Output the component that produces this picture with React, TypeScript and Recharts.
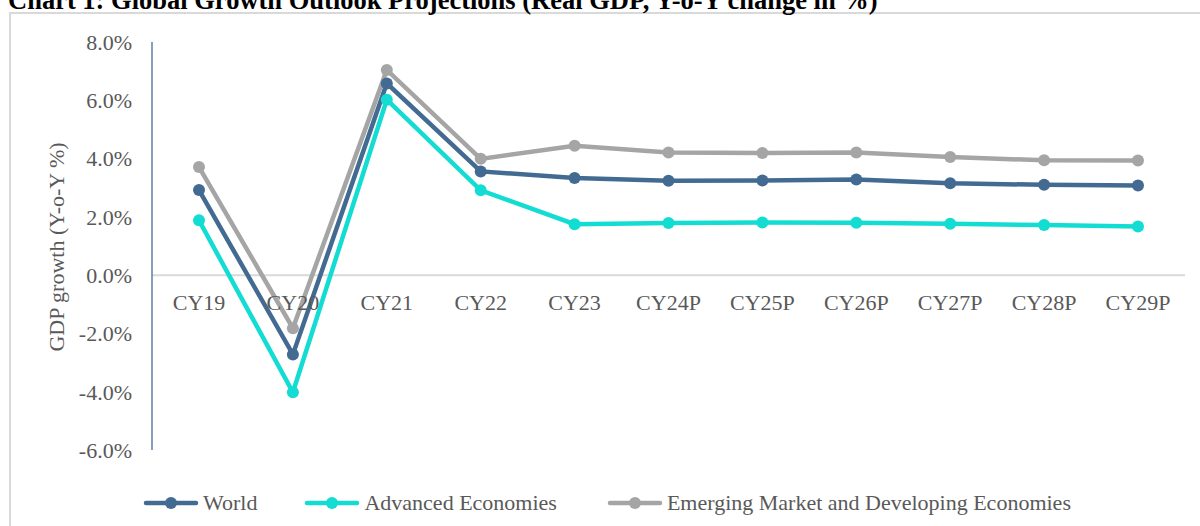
import React from "react";
import { LineChart, Line, XAxis, YAxis, ReferenceLine } from "recharts";

const CATEGORIES = [
  "CY19",
  "CY20",
  "CY21",
  "CY22",
  "CY23",
  "CY24P",
  "CY25P",
  "CY26P",
  "CY27P",
  "CY28P",
  "CY29P",
];
const WORLD = [2.92, -2.72, 6.58, 3.56, 3.33, 3.24, 3.25, 3.28, 3.15, 3.1, 3.08];
const ADVANCED = [1.88, -4.02, 6.02, 2.91, 1.75, 1.79, 1.81, 1.8, 1.76, 1.72, 1.67];
const EMERGING = [3.71, -1.82, 7.04, 3.99, 4.44, 4.21, 4.19, 4.21, 4.05, 3.94, 3.93];
const Y_TICKS = [-6, -4, -2, 0, 2, 4, 6, 8];

const SERIES = [
  { key: "world", name: "World", color: "#436B91" },
  { key: "advanced", name: "Advanced Economies", color: "#13DCD3" },
  { key: "emerging", name: "Emerging Market and Developing Economies", color: "#A5A5A5" },
];

const data = CATEGORIES.map((cat, i) => ({
  cat,
  world: WORLD[i],
  advanced: ADVANCED[i],
  emerging: EMERGING[i],
}));

const FONT = '"Liberation Serif", "Times New Roman", serif';
const TEXT = "#595959";
const PLOT_TOP = 42;
const PLOT_H = 408;
const ZERO_Y = PLOT_TOP + (PLOT_H * 8) / 14;

const XTick = (props: any) => {
  const { x, payload } = props;
  return (
    <text x={x} y={ZERO_Y + 35} textAnchor="middle" fill={TEXT} fontSize={22} fontFamily={FONT}>
      {payload.value}
    </text>
  );
};

const LegendBlock = () => (
  <div
    style={{
      position: "absolute",
      top: 490,
      left: 143,
      display: "flex",
      fontFamily: FONT,
      fontSize: 22,
      color: TEXT,
      whiteSpace: "nowrap",
    }}
  >
    {SERIES.map((s, i) => (
      <div key={s.key} style={{ display: "flex", alignItems: "center", marginRight: i === 0 ? 47 : 50 }}>
        <svg width={56} height={14} style={{ marginRight: 4 }}>
          <line x1={3} y1={7} x2={53} y2={7} stroke={s.color} strokeWidth={4.5} strokeLinecap="round" />
          <circle cx={28} cy={7} r={6} fill={s.color} />
        </svg>
        <span>{s.name}</span>
      </div>
    ))}
  </div>
);

export default function App() {
  return (
    <div
      style={{
        position: "absolute",
        left: 0,
        top: 0,
        width: 1200,
        height: 526,
        overflow: "hidden",
        background: "#fff",
      }}
    >
      <div
        style={{
          position: "absolute",
          left: 9,
          top: 12,
          width: 1250,
          height: 600,
          border: "2px solid #d9d9d9",
        }}
      />
      <LineChart
        width={1200}
        height={526}
        data={data}
        margin={{ top: PLOT_TOP, right: 15, bottom: 46, left: 62 }}
      >
        <XAxis
          dataKey="cat"
          axisLine={false}
          tickLine={false}
          height={30}
          tick={<XTick />}
          interval={0}
          padding={{ left: 47, right: 47 }}
        />
        <YAxis
          width={90}
          domain={[-6, 8]}
          ticks={Y_TICKS}
          tickFormatter={(v: number) => `${v.toFixed(1)}%`}
          axisLine={{ stroke: "#5B7FA4", strokeWidth: 1.5 }}
          tickLine={false}
          tickMargin={14}
          tick={{ fill: TEXT, fontSize: 22, fontFamily: FONT }}
        />
        <ReferenceLine y={0} stroke="#d9d9d9" strokeWidth={2} />
        {SERIES.map((s) => (
          <Line
            key={s.key}
            dataKey={s.key}
            name={s.name}
            stroke={s.color}
            strokeWidth={4.5}
            dot={{ r: 6, fill: s.color, stroke: s.color, strokeWidth: 0 }}
            isAnimationActive={false}
          />
        ))}
      </LineChart>
      <LegendBlock />
      <svg
        width={1200}
        height={526}
        style={{ position: "absolute", left: 0, top: 0, pointerEvents: "none" }}
      >
        <text x={8} y={9} fontFamily={FONT} fontSize={26.5} fontWeight="bold" fill="#000">
          Chart 1: Global Growth Outlook Projections (Real GDP, Y-o-Y change in %)
        </text>
        <text
          x={64}
          y={247}
          transform="rotate(-90, 64, 247)"
          textAnchor="middle"
          fontFamily={FONT}
          fontSize={22}
          fill={TEXT}
        >
          GDP growth (Y-o-Y %)
        </text>
      </svg>
    </div>
  );
}
